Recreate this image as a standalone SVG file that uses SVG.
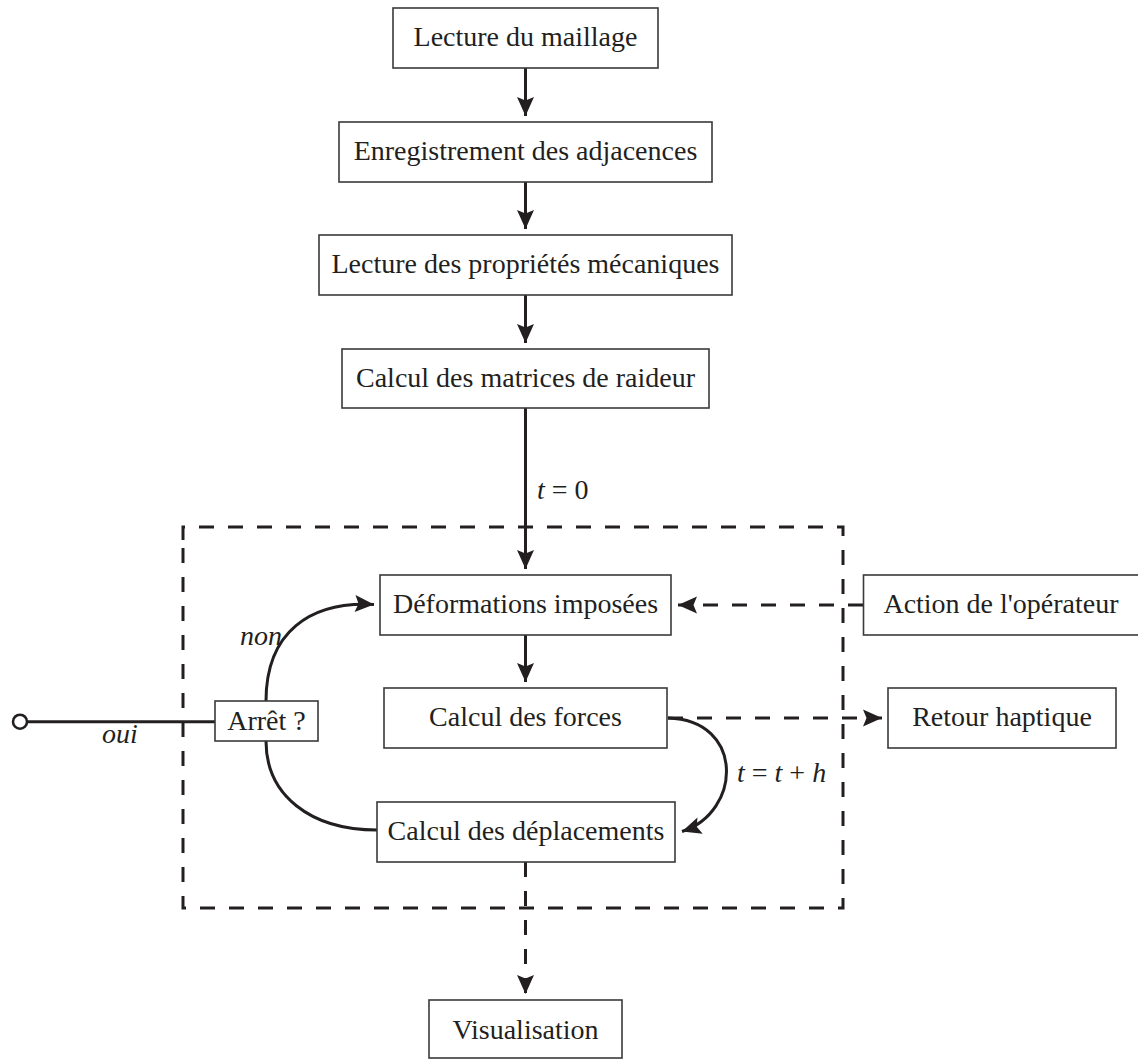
<svg xmlns="http://www.w3.org/2000/svg" width="1138" height="1060" viewBox="0 0 1138 1060">
  <style>
    .box { fill: #ffffff; stroke: #3a3a3a; stroke-width: 1.6; }
    .lbl { font-family: "Liberation Serif", "Times New Roman", serif; font-size: 28px; fill: #231f20; text-anchor: middle; }
    .it { font-family: "Liberation Serif", "Times New Roman", serif; font-size: 28px; fill: #231f20; font-style: italic; }
    .up { font-style: normal; }
    .solid { fill: none; stroke: #231f20; stroke-width: 3; }
    .dash { fill: none; stroke: #231f20; stroke-width: 3; stroke-dasharray: 15 14; }
  </style>
  <defs>
    <marker id="arr" viewBox="-20 -10 22 20" refX="0" refY="0" markerWidth="22" markerHeight="20" markerUnits="userSpaceOnUse" orient="auto">
      <path d="M0,0 L-19,-8.5 L-15.5,0 L-19,8.5 Z" fill="#231f20" stroke="none"/>
    </marker>
  </defs>

  <rect width="1138" height="1060" fill="#ffffff"/>

  <!-- dashed frame -->
  <g id="frame">
    <path class="dash" d="M183,540 L183,527 L843,527 L843,908 L183,908 L183,540" stroke-dashoffset="0"/>
  </g>

  <g id="connectors">
    <line class="solid" x1="525.5" y1="68" x2="525.5" y2="116" marker-end="url(#arr)"/>
    <line class="solid" x1="525.5" y1="182" x2="525.5" y2="229" marker-end="url(#arr)"/>
    <line class="solid" x1="525.5" y1="295" x2="525.5" y2="343" marker-end="url(#arr)"/>
    <line class="solid" x1="525.5" y1="408" x2="525.5" y2="569" marker-end="url(#arr)"/>
    <line class="solid" x1="525.5" y1="635" x2="525.5" y2="682" marker-end="url(#arr)"/>
    <!-- non loop -->
    <path class="solid" d="M266,701 C266,632 310,601 374,604.5" marker-end="url(#arr)"/>
    <!-- lower arc -->
    <path class="solid" d="M266,741 C266,795 310,830 377,830"/>
    <!-- t = t + h -->
    <path class="solid" d="M668,718 C745,720 742,812 682,831.5" marker-end="url(#arr)"/>
    <!-- oui -->
    <line class="solid" x1="28" y1="721.7" x2="215" y2="721.7"/>
    <circle cx="20" cy="721.7" r="7" fill="#ffffff" stroke="#231f20" stroke-width="2.6"/>
    <!-- dashed arrows -->
    <line class="dash" x1="863" y1="605" x2="678" y2="605" marker-end="url(#arr)"/>
    <line class="dash" x1="668" y1="718" x2="882" y2="718" marker-end="url(#arr)"/>
    <line class="dash" x1="525.5" y1="862" x2="525.5" y2="994" marker-end="url(#arr)"/>
    <!-- labels -->
    <text class="it" x="537" y="499">t<tspan class="up"> = 0</tspan></text>
    <text class="it" x="737" y="782">t<tspan class="up"> = </tspan>t<tspan class="up"> + </tspan>h</text>
    <text class="it" x="240" y="645">non</text>
    <text class="it" x="102" y="743">oui</text>
  </g>

  <g id="n1"><rect class="box" x="393" y="8" width="265" height="60"/><text class="lbl" x="525.5" y="46">Lecture du maillage</text></g>
  <g id="n2"><rect class="box" x="339" y="122" width="373" height="60"/><text class="lbl" x="525.5" y="160">Enregistrement des adjacences</text></g>
  <g id="n3"><rect class="box" x="319" y="235" width="413" height="60"/><text class="lbl" x="525.5" y="273">Lecture des propriétés mécaniques</text></g>
  <g id="n4"><rect class="box" x="342" y="349" width="367" height="59"/><text class="lbl" x="525.5" y="387">Calcul des matrices de raideur</text></g>
  <g id="n5"><rect class="box" x="380" y="575" width="291" height="60"/><text class="lbl" x="525.5" y="613">Déformations imposées</text></g>
  <g id="n6"><rect class="box" x="384" y="688" width="283" height="60"/><text class="lbl" x="525.5" y="726">Calcul des forces</text></g>
  <g id="n7"><rect class="box" x="377" y="802" width="298" height="60"/><text class="lbl" x="526" y="840">Calcul des déplacements</text></g>
  <g id="n8"><rect class="box" x="429" y="1000" width="193" height="58"/><text class="lbl" x="525.5" y="1039">Visualisation</text></g>
  <g id="n9"><rect class="box" x="215" y="701" width="103" height="40"/><text class="lbl" x="266.5" y="730">Arrêt ?</text></g>
  <g id="n10"><rect class="box" x="863.5" y="575" width="278" height="60"/><text class="lbl" x="1001" y="613">Action de l'opérateur</text></g>
  <g id="n11"><rect class="box" x="888" y="688" width="228" height="60"/><text class="lbl" x="1002" y="726">Retour haptique</text></g>
</svg>
